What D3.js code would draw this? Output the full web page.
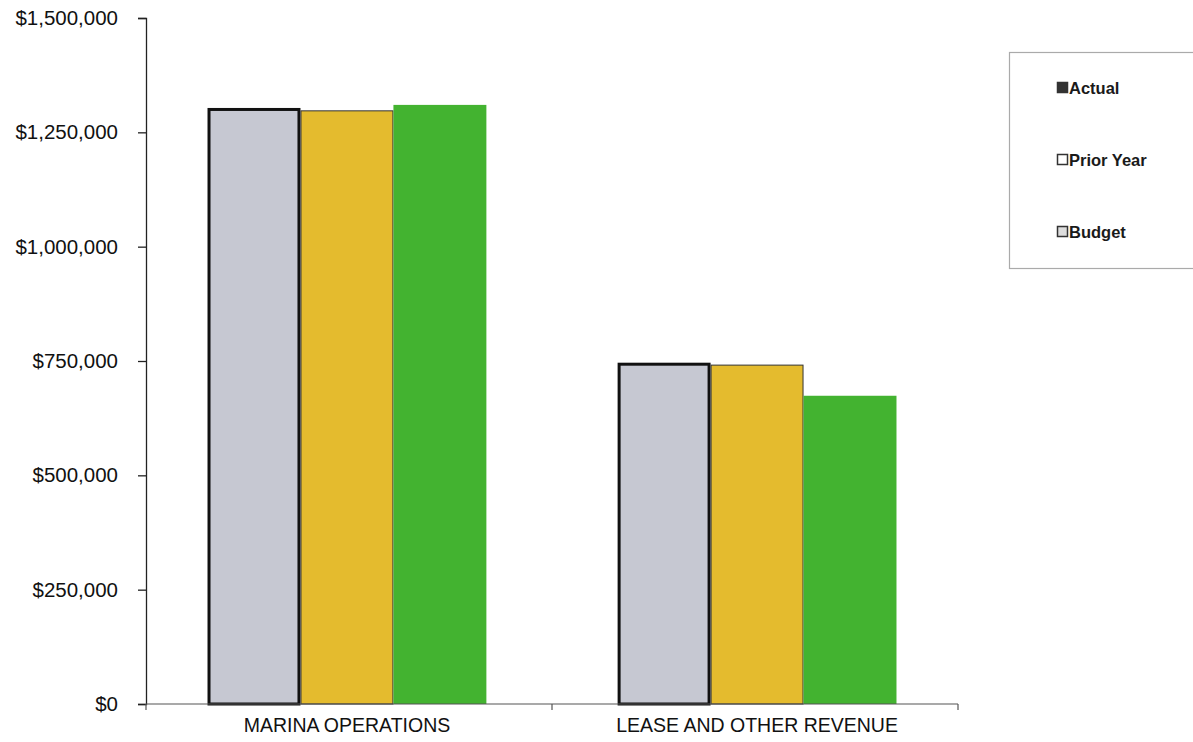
<!DOCTYPE html>
<html>
<head>
<meta charset="utf-8">
<script src="https://cdn.jsdelivr.net/npm/d3@7"></script>
<style>
  html, body { margin: 0; padding: 0; background: #fff; }
  svg { display: block; font-family: "Liberation Sans", Arial, sans-serif; }
</style>
</head>
<body>
<svg id="chart" width="1193" height="742"></svg>
<script>
const categories = ["MARINA OPERATIONS", "LEASE AND OTHER REVENUE"];
const seriesNames = ["Actual", "Prior Year", "Budget"];
const actualValues = [1300000, 743000];
const priorYearValues = [1297000, 741000];
const budgetValues = [1310000, 674000];
const yTicks = [0, 250000, 500000, 750000, 1000000, 1250000, 1500000];

const seriesValues = [actualValues, priorYearValues, budgetValues];
const fills = ["#c6c8d2", "#e4bb2e", "#43b330"];
const strokes = ["#111", "#333", "none"];
const strokeW = [3, 1, 0];

const svg = d3.select("#chart");
const x0 = 146, x1 = 958, yBase = 704, yTop = 18;

const x = d3.scaleBand().domain(categories).range([x0, x1]).paddingInner(0.32).paddingOuter(0.15);
const xs = d3.scaleBand().domain(seriesNames).range([0, x.bandwidth()]).padding(0);
const y = d3.scaleLinear().domain([0, 1500000]).range([yBase, yTop]);

const fmt = v => "$" + d3.format(",")(v);

// bars
const data = [];
categories.forEach((c, i) => seriesNames.forEach((s, j) => data.push({c, s, j, v: seriesValues[j][i]})));
svg.append("g").selectAll("rect").data(data).join("rect")
  .attr("x", d => x(d.c) + xs(d.s) + strokeW[d.j] / 2)
  .attr("y", d => y(d.v))
  .attr("width", d => xs.bandwidth() - strokeW[d.j])
  .attr("height", d => yBase - y(d.v))
  .attr("fill", d => fills[d.j])
  .attr("stroke", d => strokes[d.j])
  .attr("stroke-width", d => strokeW[d.j]);

// y axis
const yAxis = svg.append("g").attr("transform", `translate(${x0},0)`)
  .call(d3.axisLeft(y).tickValues(yTicks).tickFormat(fmt).tickSize(8).tickPadding(20));
yAxis.select(".domain").attr("stroke", "#222").attr("stroke-width", 1.3);
yAxis.selectAll(".tick line").attr("stroke", "#222").attr("stroke-width", 1.3);
yAxis.selectAll(".tick text").attr("fill", "#111").style("font-size", "20.5px")
  .style("font-family", "Liberation Sans, Arial, sans-serif");

// x axis
const xAxisG = svg.append("g").attr("transform", `translate(0,${yBase})`);
xAxisG.append("line").attr("x1", x0).attr("x2", x1).attr("stroke", "#555").attr("stroke-width", 1.2);
const boundaries = [x0, (x0 + x1) / 2, x1];
xAxisG.selectAll("line.tk").data(boundaries).join("line").attr("class", "tk")
  .attr("x1", d => d).attr("x2", d => d).attr("y1", 0).attr("y2", 6)
  .attr("stroke", "#555").attr("stroke-width", 1.2);
xAxisG.selectAll("text").data(categories).join("text")
  .attr("x", d => x(d) + x.bandwidth() / 2)
  .attr("y", 28)
  .attr("text-anchor", "middle")
  .attr("fill", "#111")
  .style("font-size", "19.5px")
  .text(d => d);

// legend
const lg = svg.append("g");
lg.append("rect").attr("x", 1009.5).attr("y", 52.5).attr("width", 190).attr("height", 216)
  .attr("fill", "#fff").attr("stroke", "#aaa").attr("stroke-width", 1.2);
const legendY = d3.scalePoint().domain(seriesNames).range([88, 232]);
const items = lg.selectAll("g.item").data(seriesNames).join("g").attr("class", "item")
  .attr("transform", d => `translate(1057,${legendY(d)})`);
items.append("rect").attr("x", 0.5).attr("y", -5.5).attr("width", 10).attr("height", 10)
  .attr("fill", (d, i) => ["#333", "#fff", "#ddd"][i])
  .attr("stroke", "#333").attr("stroke-width", 1.5);
items.append("text").attr("x", 12).attr("y", 6)
  .attr("fill", "#1a1a1a").style("font-size", "16.5px").style("font-weight", "bold")
  .text(d => d);
</script>
</body>
</html>
